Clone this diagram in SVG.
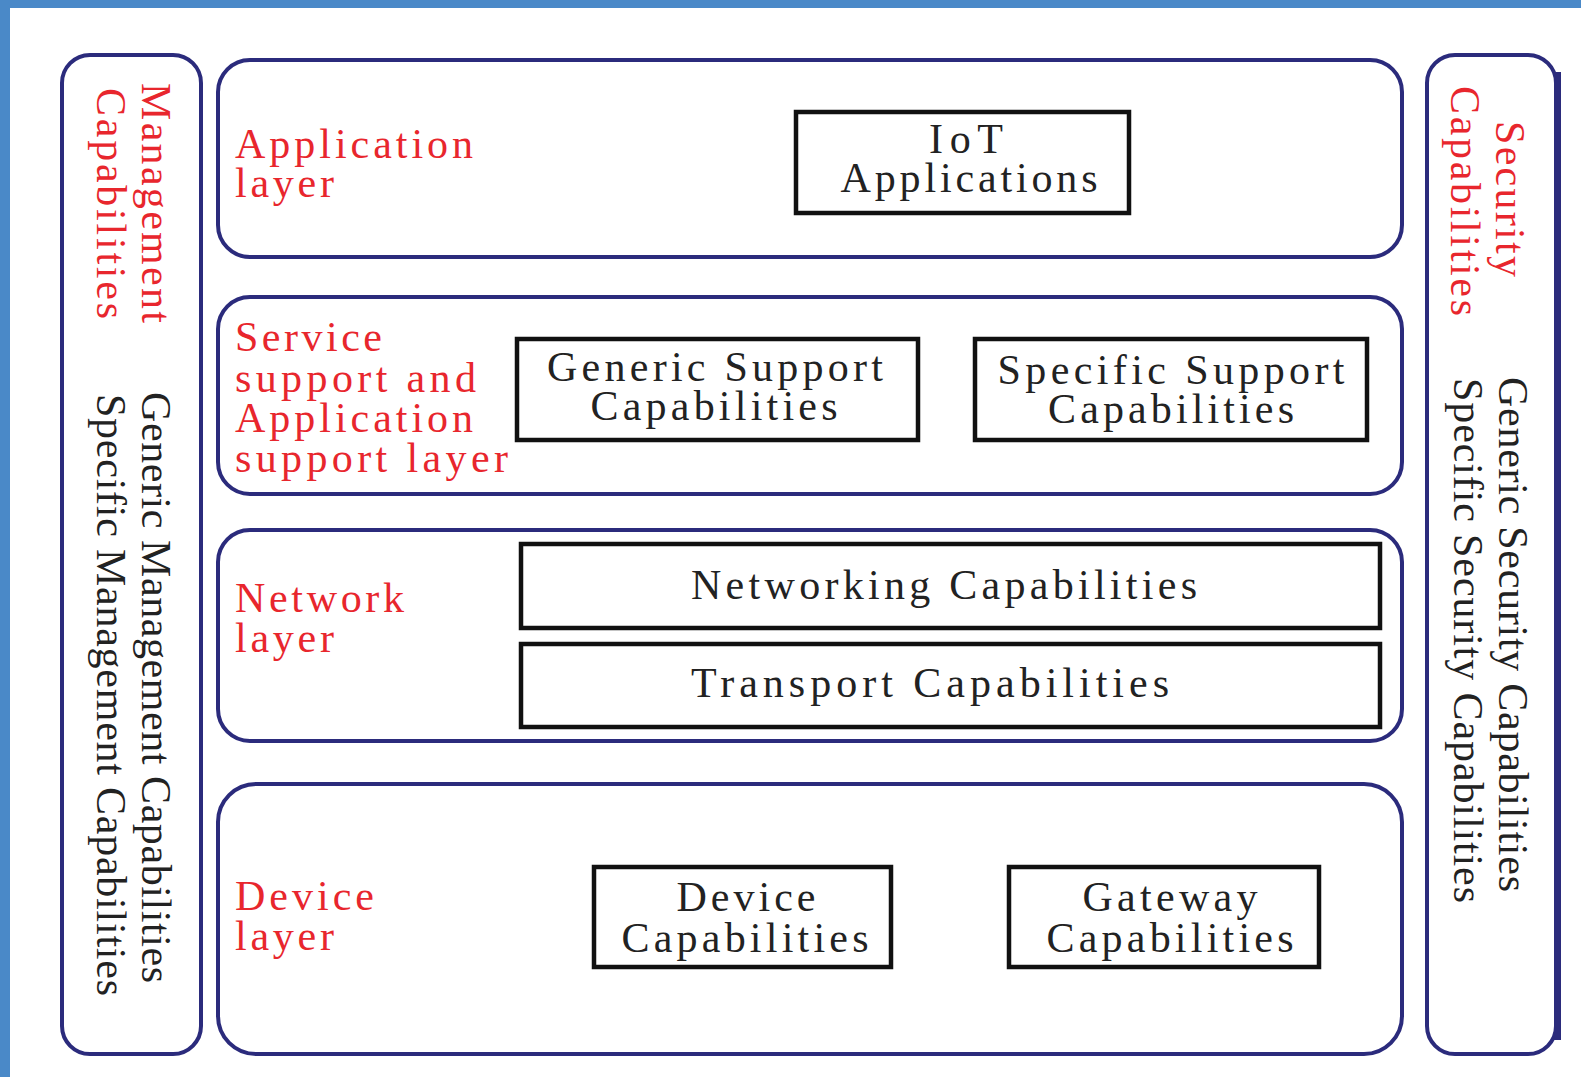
<svg xmlns="http://www.w3.org/2000/svg" width="1581" height="1077" viewBox="0 0 1581 1077">
<style>
.panel{fill:#fff;stroke:#2b2b7c;stroke-width:4}
.box{fill:#fff;stroke:#111;stroke-width:4.5}
.red{font-family:"Liberation Serif","Times New Roman",serif;font-size:42px;fill:#e8262d}
.blk{font-family:"Liberation Serif","Times New Roman",serif;font-size:42px;fill:#222}
.c{text-anchor:middle}
</style>
<rect x="0" y="0" width="1581" height="1077" fill="#fff"/>
<rect x="0" y="0" width="10" height="1077" fill="#4a89c8"/>
<rect x="0" y="0" width="1581" height="8" fill="#4a89c8"/>

<g id="management">
<rect class="panel" x="62" y="55" width="139" height="999" rx="28"/>
<text class="red" transform="translate(142,83) rotate(90)" textLength="240" lengthAdjust="spacing">Management</text>
<text class="red" transform="translate(97,88) rotate(90)" textLength="231" lengthAdjust="spacing">Capabilities</text>
<text class="blk" transform="translate(142,392) rotate(90)" textLength="591" lengthAdjust="spacing">Generic Management Capabilities</text>
<text class="blk" transform="translate(97,394) rotate(90)" textLength="602" lengthAdjust="spacing">Specific Management Capabilities</text>
</g>

<g id="security">
<rect class="panel" x="1427" y="55" width="129" height="999" rx="28"/>
<rect x="1554" y="72" width="7" height="968" fill="#2b2b7c"/>
<text class="red" transform="translate(1496,121) rotate(90)" textLength="156" lengthAdjust="spacing">Security</text>
<text class="red" transform="translate(1451,86) rotate(90)" textLength="230" lengthAdjust="spacing">Capabilities</text>
<text class="blk" transform="translate(1499,377) rotate(90)" textLength="515" lengthAdjust="spacing">Generic Security Capabilities</text>
<text class="blk" transform="translate(1454,378) rotate(90)" textLength="525" lengthAdjust="spacing">Specific Security Capabilities</text>
</g>

<g id="application-layer">
<rect class="panel" x="218" y="60" width="1184" height="197" rx="32"/>
<text class="red" x="235" y="158" textLength="238" lengthAdjust="spacing">Application</text>
<text class="red" x="235" y="197" textLength="99" lengthAdjust="spacing">layer</text>
</g>
<g id="iot-applications">
<rect class="box" x="796" y="112" width="333" height="101"/>
<text class="blk c" x="966" y="153" textLength="74" lengthAdjust="spacing">IoT</text>
<text class="blk c" x="969" y="192" textLength="257" lengthAdjust="spacing">Applications</text>
</g>

<g id="service-layer">
<rect class="panel" x="218" y="297" width="1184" height="197" rx="32"/>
<text class="red" x="235" y="351" textLength="147" lengthAdjust="spacing">Service</text>
<text class="red" x="235" y="392" textLength="241" lengthAdjust="spacing">support and</text>
<text class="red" x="235" y="432" textLength="238" lengthAdjust="spacing">Application</text>
<text class="red" x="235" y="472" textLength="273" lengthAdjust="spacing">support layer</text>
</g>
<g id="generic-support">
<rect class="box" x="517" y="339" width="401" height="101"/>
<text class="blk c" x="715" y="381" textLength="336" lengthAdjust="spacing">Generic Support</text>
<text class="blk c" x="714" y="420" textLength="247" lengthAdjust="spacing">Capabilities</text>
</g>
<g id="specific-support">
<rect class="box" x="975" y="339" width="392" height="101"/>
<text class="blk c" x="1171" y="384" textLength="347" lengthAdjust="spacing">Specific Support</text>
<text class="blk c" x="1171" y="423" textLength="246" lengthAdjust="spacing">Capabilities</text>
</g>

<g id="network-layer">
<rect class="panel" x="218" y="530" width="1184" height="211" rx="32"/>
<text class="red" x="235" y="612" textLength="169" lengthAdjust="spacing">Network</text>
<text class="red" x="235" y="652" textLength="99" lengthAdjust="spacing">layer</text>
</g>
<g id="networking">
<rect class="box" x="521" y="544" width="859" height="84"/>
<text class="blk c" x="944" y="599" textLength="506" lengthAdjust="spacing">Networking Capabilities</text>
</g>
<g id="transport">
<rect class="box" x="521" y="644" width="859" height="83"/>
<text class="blk c" x="930" y="697" textLength="478" lengthAdjust="spacing">Transport Capabilities</text>
</g>

<g id="device-layer">
<rect class="panel" x="218" y="784" width="1184" height="270" rx="38"/>
<text class="red" x="235" y="910" textLength="139" lengthAdjust="spacing">Device</text>
<text class="red" x="235" y="950" textLength="99" lengthAdjust="spacing">layer</text>
</g>
<g id="device-capabilities">
<rect class="box" x="594" y="867" width="297" height="100"/>
<text class="blk c" x="746" y="911" textLength="139" lengthAdjust="spacing">Device</text>
<text class="blk c" x="745" y="952" textLength="247" lengthAdjust="spacing">Capabilities</text>
</g>
<g id="gateway-capabilities">
<rect class="box" x="1009" y="867" width="310" height="100"/>
<text class="blk c" x="1170" y="911" textLength="175" lengthAdjust="spacing">Gateway</text>
<text class="blk c" x="1170" y="952" textLength="247" lengthAdjust="spacing">Capabilities</text>
</g>
<g id="connectors"/>
</svg>
